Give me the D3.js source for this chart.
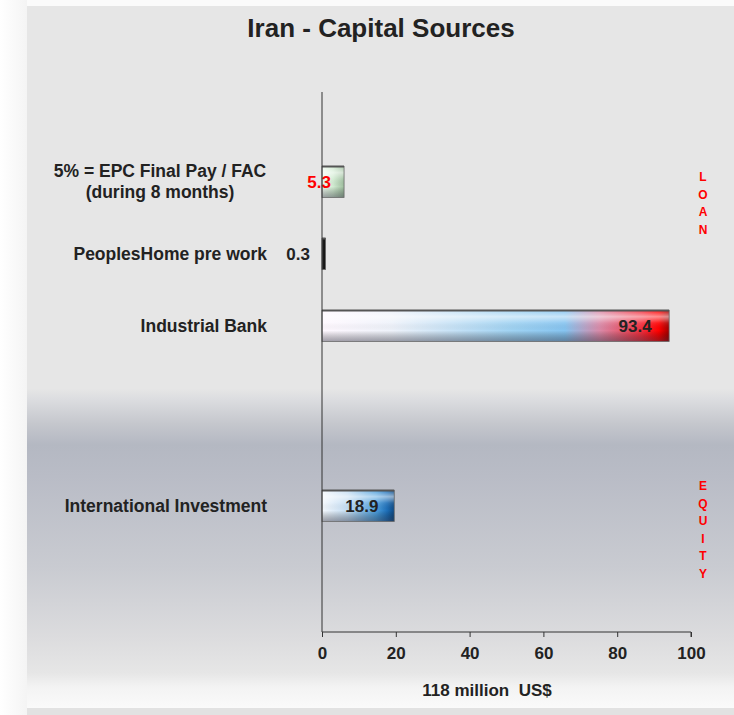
<!DOCTYPE html>
<html>
<head>
<meta charset="utf-8">
<script src="https://cdn.jsdelivr.net/npm/d3@7"></script>
<style>
  body { margin: 0; background: #fbfbfb; }
  svg { display: block; font-family: "Liberation Sans", Arial, sans-serif; }
</style>
</head>
<body>
<div id="chart"></div>
<script>
// data
var loanCategories = ["5% = EPC Final Pay / FAC|(during 8 months)", "PeoplesHome pre work", "Industrial Bank"];
var loanValues = [5.3, 0.3, 93.4];
var equityCategories = ["International Investment"];
var equityValues = [18.9];
var xTicks = [0, 20, 40, 60, 80, 100];
var groupLabels = ["LOAN", "EQUITY"];

var width = 734, height = 715;

var svg = d3.select("#chart").append("svg")
    .attr("width", width)
    .attr("height", height);

var defs = svg.append("defs");

// panel background
var bg = defs.append("linearGradient").attr("id", "bg")
    .attr("x1", 0).attr("y1", 0).attr("x2", 0).attr("y2", 1);
var bgStops = [[0, "#e6e6e6"], [0.545, "#e6e6e6"], [0.56, "#dcdde0"], [0.595, "#c5c7cd"],
               [0.625, "#b4b8c2"], [0.67, "#b9bcc6"], [0.8, "#c9cbd1"], [0.9, "#dcdcde"],
               [0.95, "#e6e6e6"], [0.97, "#f3f3f3"], [1, "#fafafa"]];
bg.selectAll("stop").data(bgStops).enter().append("stop")
    .attr("offset", function(d) { return d[0]; })
    .attr("stop-color", function(d) { return d[1]; });

var left = defs.append("linearGradient").attr("id", "leftbg")
    .attr("x1", 0).attr("y1", 0).attr("x2", 1).attr("y2", 0);
left.append("stop").attr("offset", 0).attr("stop-color", "#ffffff");
left.append("stop").attr("offset", 1).attr("stop-color", "#f4f4f4");

svg.append("rect").attr("x", 0).attr("y", 0).attr("width", 27).attr("height", height).attr("fill", "url(#leftbg)");
svg.append("rect").attr("x", 27).attr("y", 6).attr("width", width - 27).attr("height", 702).attr("fill", "url(#bg)");
svg.append("rect").attr("x", 27).attr("y", 708).attr("width", width - 27).attr("height", 7).attr("fill", "#e2e2e2");

// bar fills
var fills = [
  [[0, "#f2fbf2"], [0.5, "#d2ecd2"], [1, "#9fbf9f"]],
  [[0, "#222"], [1, "#111"]],
  [[0, "#fff8ff"], [0.2, "#eef2fa"], [0.55, "#9fd2f2"], [0.7, "#86c4f0"], [0.8, "#d98aa8"], [0.92, "#f3303f"], [0.97, "#ff0000"], [1, "#a00000"]],
  [[0, "#f4f8fd"], [0.35, "#c4ddf3"], [0.75, "#4d9fdc"], [0.9, "#1e6fb8"], [1, "#0d4a85"]]
];
fills.forEach(function(stops, i) {
  var g = defs.append("linearGradient").attr("id", "fill" + i)
      .attr("x1", 0).attr("y1", 0).attr("x2", 1).attr("y2", 0);
  g.selectAll("stop").data(stops).enter().append("stop")
      .attr("offset", function(d) { return d[0]; })
      .attr("stop-color", function(d) { return d[1]; });
});
var shade = defs.append("linearGradient").attr("id", "shade")
    .attr("x1", 0).attr("y1", 0).attr("x2", 0).attr("y2", 1);
[[0, "#ffffff", 0.1], [0.2, "#ffffff", 0.55], [0.4, "#ffffff", 0.1], [0.65, "#000000", 0.0], [1, "#303040", 0.45]]
  .forEach(function(s) {
    shade.append("stop").attr("offset", s[0]).attr("stop-color", s[1]).attr("stop-opacity", s[2]);
  });

// categories placed on 15 half slots, spacers between groups
var items = [];
loanCategories.forEach(function(c, i) {
  items.push({cat: c, value: loanValues[i], idx: i});
});
equityCategories.forEach(function(c, i) {
  items.push({cat: c, value: equityValues[i], idx: loanCategories.length + i});
});
var domain = ["s0", "s1", items[0].cat, "s3", items[1].cat, "s5", items[2].cat,
              "s7", "s8", "s9", "s10", items[3].cat, "s12", "s13", "s14"];

var y = d3.scaleBand().domain(domain).range([92, 632]);
var x = d3.scaleLinear().domain([0, 100]).range([322, 691]);
var barH = 31, depth = 2.5;
function barTop(d) { return y(d.cat) + y.bandwidth() / 2 - barH / 2; }
function barW(d) { return Math.max(x(d.value) - x(0) + depth, 2.5); }

// title
svg.append("text").attr("x", 381).attr("y", 37).attr("text-anchor", "middle")
    .attr("font-size", 26).attr("font-weight", "bold").attr("fill", "#222")
    .text("Iran - Capital Sources");

// bars
var bars = svg.selectAll(".bar").data(items).enter().append("g").attr("class", "bar");
bars.append("rect")
    .attr("x", x(0)).attr("y", barTop)
    .attr("width", barW).attr("height", barH)
    .attr("fill", function(d) { return "url(#fill" + d.idx + ")"; });
bars.filter(function(d) { return d.value > 1; }).append("rect")
    .attr("x", x(0)).attr("y", barTop)
    .attr("width", barW).attr("height", barH)
    .attr("fill", "url(#shade)");
bars.append("rect")
    .attr("x", x(0)).attr("y", barTop)
    .attr("width", barW).attr("height", barH)
    .attr("fill", "none").attr("stroke", "#6a6a6a").attr("stroke-width", 0.8);
bars.append("line")
    .attr("x1", x(0))
    .attr("x2", function(d) { return x(0) + barW(d); })
    .attr("y1", barTop).attr("y2", barTop)
    .attr("stroke", "#555").attr("stroke-width", 2);

// value labels
bars.append("text")
    .attr("x", function(d) {
      if (d.idx === 0) return x(0) + 9;
      if (d.idx === 1) return x(0) - 12;
      if (d.idx === 2) return x(d.value) - 15;
      return x(d.value / 2) + 5;
    })
    .attr("y", function(d) { return y(d.cat) + y.bandwidth() / 2 + 6; })
    .attr("text-anchor", function(d) { return d.idx === 3 ? "middle" : "end"; })
    .attr("font-size", 17).attr("font-weight", "bold")
    .attr("fill", function(d) { return d.idx === 0 ? "#ff0000" : "#222"; })
    .text(function(d) { return d.value; });

// category labels
var catLabels = svg.selectAll(".cat").data(items).enter().append("text")
    .attr("class", "cat")
    .attr("font-size", 17.5).attr("font-weight", "bold").attr("fill", "#222");
catLabels.each(function(d) {
  var lines = d.cat.split("|");
  var t = d3.select(this);
  var cy = y(d.cat) + y.bandwidth() / 2;
  if (lines.length > 1) {
    t.attr("text-anchor", "middle");
    lines.forEach(function(l, i) {
      t.append("tspan").attr("x", 160).attr("y", cy - 5 + i * 21).text(l);
    });
  } else {
    t.attr("text-anchor", "end").attr("x", 267).attr("y", cy + 6).text(lines[0]);
  }
});

// axes
svg.append("line").attr("x1", x(0)).attr("x2", x(0)).attr("y1", 92).attr("y2", 632)
    .attr("stroke", "#333").attr("stroke-width", 1);
var xAxis = svg.append("g").attr("transform", "translate(0,632)")
    .call(d3.axisBottom(x).tickValues(xTicks).tickSize(5).tickPadding(10));
xAxis.select(".domain").attr("stroke", "#333").attr("d", "M" + x(0) + ",0H" + x(100) + "V5");
xAxis.selectAll(".tick line").attr("stroke", "#333");
xAxis.selectAll(".tick text").attr("font-size", 17).attr("font-weight", "bold")
    .attr("fill", "#222").attr("font-family", "Liberation Sans, Arial, sans-serif");

svg.append("text").attr("x", 487).attr("y", 696).attr("text-anchor", "middle")
    .attr("font-size", 17).attr("font-weight", "bold").attr("fill", "#222")
    .text("118 million\u00a0 US$");

// group labels (vertical letters)
var groupY = [181, 490];
groupLabels.forEach(function(g, gi) {
  g.split("").forEach(function(ch, i) {
    svg.append("text").attr("x", 703).attr("y", groupY[gi] + i * 17.5)
        .attr("text-anchor", "middle").attr("font-size", 12).attr("font-weight", "bold")
        .attr("fill", "#ff0000").text(ch);
  });
});
</script>
</body>
</html>
